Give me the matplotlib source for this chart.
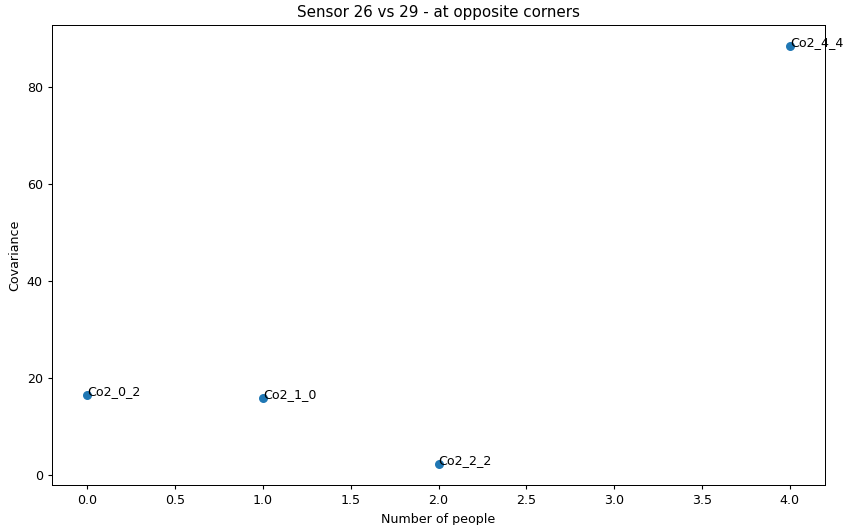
import matplotlib
matplotlib.use("Agg")
import matplotlib.pyplot as plt

people = [0, 1, 2, 4]
covariance = [16.5, 15.9, 2.3, 88.5]
labels = ["Co2_0_2", "Co2_1_0", "Co2_2_2", "Co2_4_4"]

scale = 0.91
plt.rcParams.update({
    "font.size": 10 * scale,
    "axes.titlesize": 12 * scale,
    "xtick.major.size": 3.5 * scale,
    "ytick.major.size": 3.5 * scale,
    "axes.linewidth": 0.8 * scale,
})

fig, ax = plt.subplots(figsize=(8.43, 5.25), dpi=100)
fig.subplots_adjust(left=52/843, right=825/843, top=1-25/525, bottom=1-485/525)

ax.scatter(people, covariance, s=36 * scale * scale)
for x, y, name in zip(people, covariance, labels):
    ax.annotate(name, (x, y))

ax.set_title("Sensor 26 vs 29 - at opposite corners")
ax.set_xlabel("Number of people")
ax.set_ylabel("Covariance")

fig.savefig("out.png", dpi=100)
